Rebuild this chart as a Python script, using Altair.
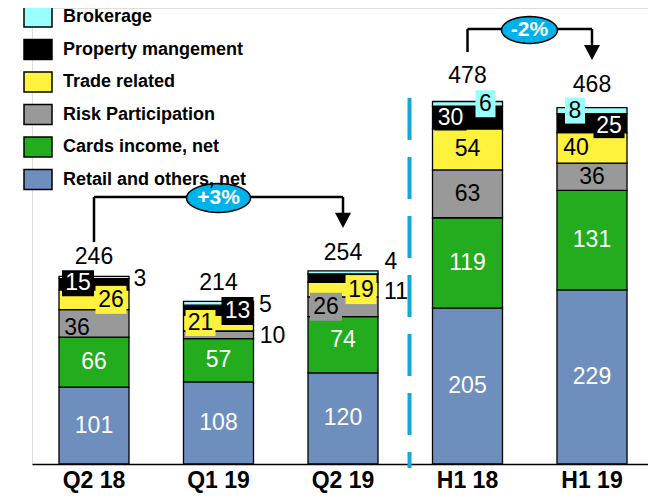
import math
import altair as alt
import pandas as pd

# ---------------- data ----------------
periods = ["Q2 18", "Q1 19", "Q2 19", "H1 18", "H1 19"]
series_names = ["Retail and others, net", "Cards income, net", "Risk Participation",
                "Trade related", "Property mangement", "Brokerage"]
retail = [101, 108, 120, 205, 229]
cards = [66, 57, 74, 119, 131]
risk = [36, 10, 26, 63, 36]
trade = [26, 21, 19, 54, 40]
property_mgmt = [15, 13, 11, 30, 25]
brokerage = [3, 5, 4, 6, 8]
totals = [246, 214, 254, 478, 468]
change_text = ["+3%", "-2%"]
change_from = ["Q2 18", "H1 18"]
change_to = ["Q2 19", "H1 19"]

series_values = [retail, cards, risk, trade, property_mgmt, brokerage]

# ---------------- style ----------------
series_colors = ["#6e8ebe", "#22ac1e", "#999999", "#fff23c", "#000000", "#9bfffe"]
label_colors = ["white", "white", "black", "black", "white", "black"]
legend_order = series_names[::-1]
legend_colors = series_colors[::-1]
NUM_FONT = "Liberation Sans"
HALF_BAND = 35      # xOffset is measured from the band start
PLOT_H = 456
Y_MAX = 600
PX = PLOT_H / Y_MAX  # pixels per data unit (to turn pixel nudges into data units)

# (period index, series index) -> label placement (pixel offsets, optional box w,h)
label_style = {
    (0, 2): dict(dx=-17, dy=5),
    (0, 3): dict(dx=17, dy=0, box=(31, 28)),
    (0, 4): dict(dx=-16, dy=-1, box=(32, 26)),
    (0, 5): dict(dx=46, dy=2),
    (1, 2): dict(dx=54, dy=1),
    (1, 3): dict(dx=-18, dy=0, box=(30, 26)),
    (1, 4): dict(dx=19, dy=1, box=(32, 28)),
    (1, 5): dict(dx=47, dy=2),
    (2, 1): dict(dy=-5),
    (2, 2): dict(dx=-17, dy=0, box=(32, 28)),
    (2, 3): dict(dx=18, dy=0, box=(31, 29)),
    (2, 4): dict(dx=53, dy=14, color="black"),
    (2, 5): dict(dx=48, dy=-10),
    (3, 4): dict(dx=-17, dy=1, box=(32, 24)),
    (3, 5): dict(dx=18, dy=0, box=(20, 27)),
    (4, 3): dict(dx=-16, dy=0),
    (4, 4): dict(dx=17, dy=3, box=(31, 24)),
    (4, 5): dict(dx=-17, dy=0, box=(20, 26)),
}
total_dy = [-19, -18, -18, -25, -23]


def box_path(w, h):
    s = max(w, h)
    a, b = w / s, h / s
    return f"M{-a:.3f},{-b:.3f}L{a:.3f},{-b:.3f}L{a:.3f},{b:.3f}L{-a:.3f},{b:.3f}Z", s * s


def ellipse_path(ratio, n=40):
    pts = []
    for k in range(n):
        t = 2 * math.pi * k / n
        pts.append(f"{math.cos(t):.3f},{ratio * math.sin(t):.3f}")
    return "M" + "L".join(pts) + "Z"


bar_rows, label_rows, box_rows, total_rows = [], [], [], []
for pi, p in enumerate(periods):
    base = 0
    for si, s in enumerate(series_names):
        v = series_values[si][pi]
        bar_rows.append(dict(period=p, series=s, start=base, end=base + v, order=si))
        st = label_style.get((pi, si), {})
        dx, dy = st.get("dx", 0), st.get("dy", 0)
        outside = abs(dx) > 40
        tcol = st.get("color", "black" if outside else label_colors[si])
        ypos = base + v / 2 - dy / PX
        label_rows.append(dict(period=p, text=str(v), ypos=ypos, dx=dx + HALF_BAND, tcol=tcol))
        if "box" in st:
            path, size = box_path(*st["box"])
            box_rows.append(dict(period=p, ypos=ypos, dx=dx + HALF_BAND, shape=path,
                                 size=size, fill=series_colors[si]))
        base += v
    total_rows.append(dict(period=p, ypos=base - total_dy[pi] / PX, text=str(totals[pi])))

bars_df = pd.DataFrame(bar_rows)
labels_df = pd.DataFrame(label_rows)
boxes_df = pd.DataFrame(box_rows)
totals_df = pd.DataFrame(total_rows)

# bracket annotation geometry (data units)
vert_df = pd.DataFrame([
    dict(period=change_from[0], y=292, y2=351.3),
    dict(period=change_to[0], y=351.3, y2=330.3),
    dict(period=change_from[1], y=542, y2=572.4),
    dict(period=change_to[1], y=572.4, y2=551.3),
])
horiz_df = pd.DataFrame([
    dict(period=change_from[0], period_to=change_to[0], y=351.3),
    dict(period=change_from[1], period_to=change_to[1], y=572.4),
])
tri_path = "M-1,-0.9L1,-0.9L0,1Z"
arrow_df = pd.DataFrame([
    dict(period=change_to[0], y=321.0),
    dict(period=change_to[1], y=542.0),
])
ell_df = pd.DataFrame([
    dict(period="Q1 19", y=350, dx=0 + HALF_BAND, text=change_text[0], shape=ellipse_path(0.45), size=64 * 64),
    dict(period="H1 18", y=571, dx=62 + HALF_BAND, text=change_text[1], shape=ellipse_path(0.48), size=56 * 56),
])
sep_df = pd.DataFrame([dict(period="H1 18", y=481.6, y2=-5.3)])

# ---------------- encodings ----------------
x_scale = alt.Scale(domain=periods, paddingInner=0.4378, paddingOuter=0.1928, align=0.5625)
x_enc = alt.X("period:N", sort=periods, scale=x_scale,
              axis=alt.Axis(title=None, labelAngle=0, ticks=False, domainColor="black",
                            domainWidth=1.5, labelFont=NUM_FONT, labelFontWeight="bold",
                            labelFontSize=23, labelColor="black", labelPadding=5))
y_scale = alt.Scale(domain=[0, Y_MAX], nice=False, zero=False)


def Y(field):
    return alt.Y(field, type="quantitative", scale=y_scale, axis=None)


rect_sym = "M-1,-0.714L1,-0.714L1,0.714L-1,0.714Z"

bars = alt.Chart(bars_df).mark_bar(stroke="black", strokeWidth=1.3).encode(
    x=x_enc,
    y=Y("start"),
    y2="end",
    color=alt.Color("series:N", scale=alt.Scale(domain=legend_order, range=legend_colors),
                    legend=alt.Legend(orient="none", legendX=-9, legendY=-6, title=None,
                                      symbolType=rect_sym, symbolSize=784,
                                      symbolStrokeColor="black", symbolStrokeWidth=1.5,
                                      symbolOpacity=1, labelFont=NUM_FONT,
                                      labelFontWeight="bold", labelFontSize=18,
                                      labelColor="black", labelOffset=10, rowPadding=4.5,
                                      padding=0, labelLimit=300)),
)

boxes = alt.Chart(boxes_df).mark_point(filled=True, opacity=1, strokeWidth=0).encode(
    x=x_enc,
    xOffset=alt.XOffset("dx:Q", scale=None),
    y=Y("ypos"),
    shape=alt.Shape("shape:N", scale=None),
    size=alt.Size("size:Q", scale=None),
    fill=alt.Fill("fill:N", scale=None),
)

labels = alt.Chart(labels_df).mark_text(font=NUM_FONT, fontSize=23, baseline="middle",
                                         align="center").encode(
    x=x_enc,
    xOffset=alt.XOffset("dx:Q", scale=None),
    y=Y("ypos"),
    text="text:N",
    fill=alt.Fill("tcol:N", scale=None),
)

total_text = alt.Chart(totals_df).mark_text(font=NUM_FONT, fontSize=23, baseline="middle",
                                            align="center", color="black").encode(
    x=x_enc,
    y=Y("ypos"),
    text="text:N",
)

sep = alt.Chart(sep_df).mark_rule(color="#18a6d6", strokeWidth=4, strokeDash=[42, 17],
                                  xOffset=-58).encode(x=x_enc, y=Y("y"), y2="y2")

vlines = alt.Chart(vert_df).mark_rule(color="black", strokeWidth=2.5).encode(
    x=x_enc, y=Y("y"), y2="y2")
hlines = alt.Chart(horiz_df).mark_rule(color="black", strokeWidth=2.5).encode(
    x=x_enc, x2="period_to:N", y=Y("y"))
arrows = alt.Chart(arrow_df).mark_point(filled=True, opacity=1, color="black",
                                        shape=tri_path, size=256).encode(x=x_enc, y=Y("y"))

ellipses = alt.Chart(ell_df).mark_point(filled=True, opacity=1, fill="#00b2ea",
                                        stroke="black", strokeWidth=1.5).encode(
    x=x_enc,
    xOffset=alt.XOffset("dx:Q", scale=None),
    y=Y("y"),
    shape=alt.Shape("shape:N", scale=None),
    size=alt.Size("size:Q", scale=None),
)
ell_text = alt.Chart(ell_df).mark_text(font=NUM_FONT, fontSize=21, fontWeight="bold",
                                       color="white", baseline="middle", align="center").encode(
    x=x_enc,
    xOffset=alt.XOffset("dx:Q", scale=None),
    y=Y("y"),
    text="text:N",
)

chart = alt.layer(sep, bars, boxes, labels, total_text, vlines, hlines, arrows,
                  ellipses, ell_text).properties(
    width=616, height=PLOT_H, autosize="none",
    padding={"left": 24, "top": 0, "right": 0, "bottom": 32},
).configure_view(stroke=None).configure(background="white")

chart.save("out.html", embed_options={"renderer": "svg", "actions": False})
